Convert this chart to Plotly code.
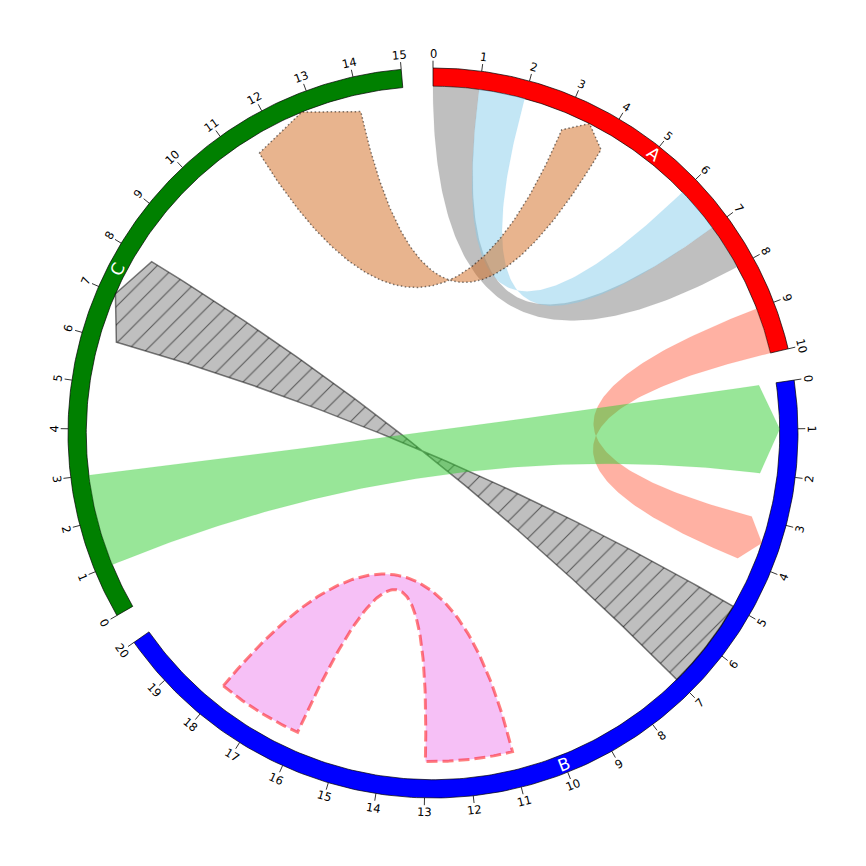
import numpy as np
import plotly.graph_objects as go

# ---------------- data ----------------
sector_names = ["A", "B", "C"]
sector_sizes = [10, 20, 15]
sector_colors = ["red", "blue", "green"]
space_deg = 5
tick_interval = 1

link_region1 = [("A", 0, 1), ("A", 1, 2), ("A", 9, 10), ("B", 5, 7), ("B", 18, 16), ("C", 1, 3), ("C", 11.5, 14)]
link_region2 = [("A", 7, 8), ("A", 7, 6), ("B", 4, 3), ("C", 8, 6), ("B", 13, 11), ("B", 0, 2), ("A", 4, 3)]
link_r1 = [95, 95, 95, 95, 90, 95, 95]
link_r2 = [95, 95, 95, 95, 90, 95, 95]
link_direction = [0, 0, 1, 1, 0, 1, 2]
link_fill = ["rgba(128,128,128,0.5)", "rgba(135,206,235,0.5)", "rgba(255,99,71,0.5)",
             "rgba(128,128,128,0.5)", "rgba(238,130,238,0.5)", "rgba(50,205,50,0.5)",
             "rgba(210,105,30,0.5)"]
link_edge = ["rgba(128,128,128,0.5)", "rgba(135,206,235,0.5)", "rgba(255,99,71,0.5)",
             "rgba(0,0,0,0.5)", "rgba(255,0,0,0.5)", "rgba(50,205,50,0.5)",
             "rgba(0,0,0,0.5)"]
link_lw = [0.15, 0.15, 0.15, 1.5, 3, 0.15, 1.5]
link_dash = ["solid", "solid", "solid", "solid", "11px,5px", "solid", "1.5px,2.5px"]
link_hatch = [None, None, None, "/", None, None, None]

# ---------------- geometry ----------------
PX_PER_UNIT = 3.65
HALF = 433 / PX_PER_UNIT
total = sum(sector_sizes)
deg_per_unit = (360 - space_deg * len(sector_sizes)) / total
sector_start = {}
pos = 0.0
for n, s in zip(sector_names, sector_sizes):
    sector_start[n] = pos
    pos += s * deg_per_unit + space_deg


def to_deg(name, x):
    return sector_start[name] + x * deg_per_unit


def polar(deg, r):
    t = np.deg2rad(deg)
    return r * np.sin(t), r * np.cos(t)


def arc(d1, d2, r, n=60):
    ds = np.linspace(d1, d2, n)
    return [polar(d, r) for d in ds]


def bezier(p0, p2, n=120):
    t = np.linspace(0, 1, n)
    xs = (1 - t) ** 2 * p0[0] + t ** 2 * p2[0]
    ys = (1 - t) ** 2 * p0[1] + t ** 2 * p2[1]
    return list(zip(xs, ys))


def side(d1, d2, r, arrow):
    if arrow:
        ra = r * 0.95
        return [polar(d1, ra), polar((d1 + d2) / 2, r), polar(d2, ra)], ra
    return arc(d1, d2, r), r


fig = go.Figure()

# tracks
for n, s, c in zip(sector_names, sector_sizes, sector_colors):
    d1, d2 = to_deg(n, 0), to_deg(n, s)
    pts = arc(d1, d2, 100, 200) + arc(d2, d1, 95, 200)
    pts.append(pts[0])
    fig.add_trace(go.Scatter(x=[p[0] for p in pts], y=[p[1] for p in pts], mode="lines",
                             fill="toself", fillcolor=c, line=dict(color="black", width=0.7),
                             hoverinfo="skip", showlegend=False))

# links
for i in range(len(link_region1)):
    n1, s1, e1 = link_region1[i]
    n2, s2, e2 = link_region2[i]
    d = link_direction[i]
    ds1, de1 = to_deg(n1, s1), to_deg(n1, e1)
    ds2, de2 = to_deg(n2, s2), to_deg(n2, e2)
    side1, ra1 = side(ds1, de1, link_r1[i], d in (-1, 2))
    side2, ra2 = side(ds2, de2, link_r2[i], d in (1, 2))
    pts = []
    pts += side1
    pts += bezier(polar(de1, ra1), polar(ds2, ra2))
    pts += side2
    pts += bezier(polar(de2, ra2), polar(ds1, ra1))
    pts.append(pts[0])
    kw = {}
    if link_hatch[i]:
        kw["fillpattern"] = dict(shape=link_hatch[i], fgcolor="rgba(0,0,0,0.55)",
                                 bgcolor=link_fill[i], size=13, solidity=0.08, fillmode="replace")
    fig.add_trace(go.Scatter(x=[p[0] for p in pts], y=[p[1] for p in pts], mode="lines",
                             fill="toself", fillcolor=link_fill[i],
                             line=dict(color=link_edge[i], width=link_lw[i], dash=link_dash[i]),
                             hoverinfo="skip", showlegend=False, **kw))

# ticks
tx, ty = [], []
annotations = []


def text_angle(deg):
    deg = deg % 360
    if deg <= 90:
        return deg
    if deg >= 270:
        return deg - 360
    return deg - 180


for n, s in zip(sector_names, sector_sizes):
    for v in range(0, s + 1, tick_interval):
        dg = to_deg(n, v)
        a = polar(dg, 100)
        b = polar(dg, 102)
        tx += [a[0], b[0], None]
        ty += [a[1], b[1], None]
        lp = polar(dg, 103.9)
        annotations.append(dict(x=lp[0], y=lp[1], text=str(v), showarrow=False,
                                xanchor="center", yanchor="middle", textangle=text_angle(dg),
                                font=dict(family="DejaVu Sans", size=11.5, color="black")))
    mid = to_deg(n, s / 2)
    lp = polar(mid, 97.5)
    annotations.append(dict(x=lp[0], y=lp[1], text=n, showarrow=False,
                            xanchor="center", yanchor="middle", textangle=text_angle(mid),
                            font=dict(family="DejaVu Sans", size=17, color="white")))

fig.add_trace(go.Scatter(x=tx, y=ty, mode="lines", line=dict(color="black", width=0.8),
                         hoverinfo="skip", showlegend=False))

fig.update_layout(width=866, height=866, margin=dict(l=0, r=0, t=0, b=0),
                  paper_bgcolor="white", plot_bgcolor="white",
                  xaxis=dict(range=[-HALF, HALF], visible=False, fixedrange=True),
                  yaxis=dict(range=[-HALF, HALF], visible=False, fixedrange=True),
                  annotations=annotations)
fig.write_html("out.html", config={"displayModeBar": False},
               post_script="document.body.style.margin='0';document.body.style.overflow='hidden';")
